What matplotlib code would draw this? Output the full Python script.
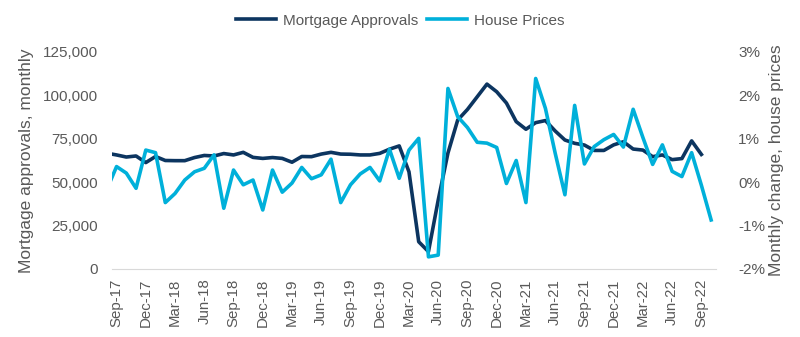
import numpy as np
import pandas as pd
import matplotlib
matplotlib.use("Agg")
import matplotlib.pyplot as plt
from matplotlib.ticker import FuncFormatter

plt.rcParams['font.family'] = ['Liberation Sans', 'DejaVu Sans']

# monthly data, Aug-17 onwards (Aug-17 sits just outside the left edge)
months = pd.date_range('2017-08-01', '2022-10-01', freq='MS')
approvals = [66700, 65700, 64500, 65100, 61300, 64800, 62500, 62400, 62400, 64200,
             65400, 65100, 66500, 65700, 67200, 64300, 63700, 64200, 63700, 61500,
             64800, 64700, 66200, 67200, 66200, 66100, 65700, 65700, 66600, 69000,
             70900, 56000, 15700, 10000, 39700, 66800, 85800, 91900, 99200, 106500,
             102100, 95600, 84900, 80500, 84300, 85500, 79500, 74300, 72400, 71400,
             68300, 68300, 71500, 73300, 69100, 68500, 64700, 65700, 63000, 63600,
             73800, 66000]
house_prices = [-0.17, 0.36, 0.21, -0.14, 0.74, 0.68, -0.47, -0.26, 0.05, 0.24,
                0.32, 0.63, -0.60, 0.28, -0.06, 0.05, -0.64, 0.28, -0.23, -0.02,
                0.34, 0.08, 0.17, 0.53, -0.47, -0.06, 0.19, 0.34, 0.03, 0.76,
                0.09, 0.74, 1.01, -1.72, -1.68, 2.16, 1.51, 1.26, 0.92, 0.90,
                0.80, -0.03, 0.50, -0.47, 2.39, 1.70, 0.67, -0.29, 1.77, 0.42,
                0.82, 0.98, 1.10, 0.81, 1.68, 1.03, 0.41, 0.86, 0.25, 0.13,
                0.68, -0.07, -0.87]

dark = '#0c3560'
light = '#00b0da'
grey = '#595959'

x_all = np.arange(len(months)) - 1  # Sep-17 -> 0
x_app = x_all[:len(approvals)]

fig = plt.figure(figsize=(8, 3.37), dpi=100)
ax = fig.add_axes([0.1396, 0.2018, 0.7554, 0.6439])
ax2 = ax.twinx()

l1, = ax.plot(x_app, approvals, color=dark, lw=2.6, solid_joinstyle='round')
l2, = ax2.plot(x_all, house_prices, color=light, lw=2.6, solid_joinstyle='round')

ax.set_xlim(-0.5, 61.5)
ax.set_ylim(0, 125000)
ax2.set_ylim(-2, 3)
ax.set_yticks(np.arange(0, 125001, 25000))
ax2.set_yticks(np.arange(-2, 3.01, 1))
ax.yaxis.set_major_formatter(FuncFormatter(lambda v, p: f'{int(v):,}'))
ax2.yaxis.set_major_formatter(FuncFormatter(lambda v, p: f'{int(round(v))}%'))

ticks = np.arange(0, 61, 3)
ax.set_xticks(ticks)
ax.set_xticklabels([months[t + 1].strftime('%b-%y') for t in ticks], rotation=90)

for a in (ax, ax2):
    for s in a.spines.values():
        s.set_visible(False)
    a.tick_params(length=0, colors=grey, labelsize=11)
ax.spines['bottom'].set_visible(True)
ax.spines['bottom'].set_color('#d9d9d9')
ax.tick_params(axis='x', pad=7, labelsize=10.8)
ax.tick_params(axis='y', pad=10)
ax2.tick_params(axis='y', pad=16)

ax.set_ylabel('Mortgage approvals, monthly', color=grey, fontsize=12.5, labelpad=6)
ax2.set_ylabel('Monthly change, house prices', color=grey, fontsize=12.5, labelpad=3)

fig.legend([l1, l2], ['Mortgage Approvals', 'House Prices'], loc='upper center',
           bbox_to_anchor=(0.5, 1.0), ncol=2, frameon=False, fontsize=11,
           handlelength=2.6, handletextpad=0.45, columnspacing=0.6,
           labelcolor=grey)

fig.savefig('out.png', dpi=100)
